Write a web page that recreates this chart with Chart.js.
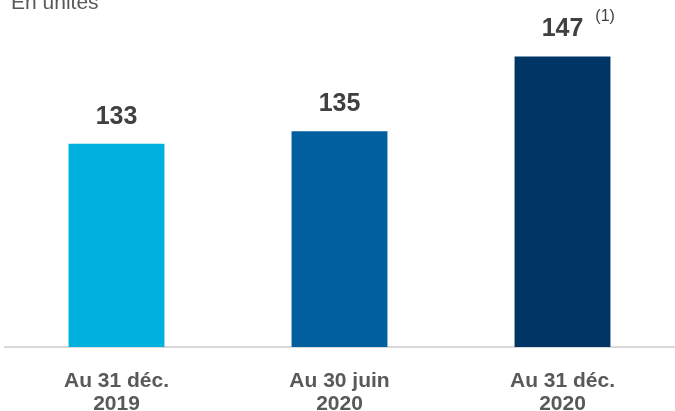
<!DOCTYPE html>
<html>
<head>
<meta charset="utf-8">
<script src="https://cdn.jsdelivr.net/npm/chart.js@4"></script>
<style>
  html, body { margin: 0; padding: 0; background: #ffffff; }
  #wrap { position: relative; width: 675px; height: 411px; }
</style>
</head>
<body>
<div id="wrap"><canvas id="myChart"></canvas></div>
<script>
// data
const categories = [['Au 31 déc.', '2019'], ['Au 30 juin', '2020'], ['Au 31 déc.', '2020']];
const values = [133, 135, 147];
const barColors = ['#00b1de', '#005f9f', '#003566'];
const footnotes = ['', '', '(1)'];
const unitLabel = 'En unités';

// draws value labels above bars, the footnote and the unit text
const labelPlugin = {
    id: 'labels',
    afterDatasetsDraw(chart) {
        const ctx = chart.ctx;
        const meta = chart.getDatasetMeta(0);
        ctx.save();
        ctx.textAlign = 'center';
        ctx.textBaseline = 'middle';
        meta.data.forEach((bar, i) => {
            ctx.font = 'bold 25px "Liberation Sans"';
            ctx.fillStyle = '#404040';
            ctx.fillText(values[i], bar.x, bar.y - 27);
            if (footnotes[i]) {
                const w = ctx.measureText(values[i]).width;
                ctx.font = '16px "Liberation Sans"';
                ctx.textAlign = 'left';
                ctx.fillText(footnotes[i], bar.x + w / 2 + 12, bar.y - 40);
                ctx.textAlign = 'center';
            }
        });
        // unit text, cut at the top as in the source
        ctx.font = '21px "Liberation Sans"';
        ctx.fillStyle = '#595959';
        ctx.textAlign = 'left';
        ctx.textBaseline = 'alphabetic';
        ctx.fillText(unitLabel, 11, 9);
        ctx.restore();
    }
};

const myChart = new Chart(document.getElementById('myChart'), {
    type: 'bar',
    data: {
        labels: categories,
        datasets: [{
            data: values,
            backgroundColor: barColors,
            barPercentage: 0.43,
            categoryPercentage: 1
        }]
    },
    options: {
        responsive: true,
        maintainAspectRatio: false,
        animation: false,
        layout: { padding: { left: 5, right: 1, top: 0, bottom: 0 } },
        scales: {
            x: {
                grid: { display: false },
                border: { color: '#d9d9d9', width: 2 },
                afterFit: function(scale) { scale.height = 64; },
                ticks: {
                    padding: 15,
                    color: '#595959',
                    font: { family: '"Liberation Sans"', size: 21, weight: 'bold', lineHeight: 1.1 },
                    maxRotation: 0
                }
            },
            y: {
                display: false,
                min: 100.3,
                max: 156.1
            }
        },
        plugins: {
            legend: { display: false },
            tooltip: { enabled: false }
        }
    },
    plugins: [labelPlugin]
});
</script>
</body>
</html>
